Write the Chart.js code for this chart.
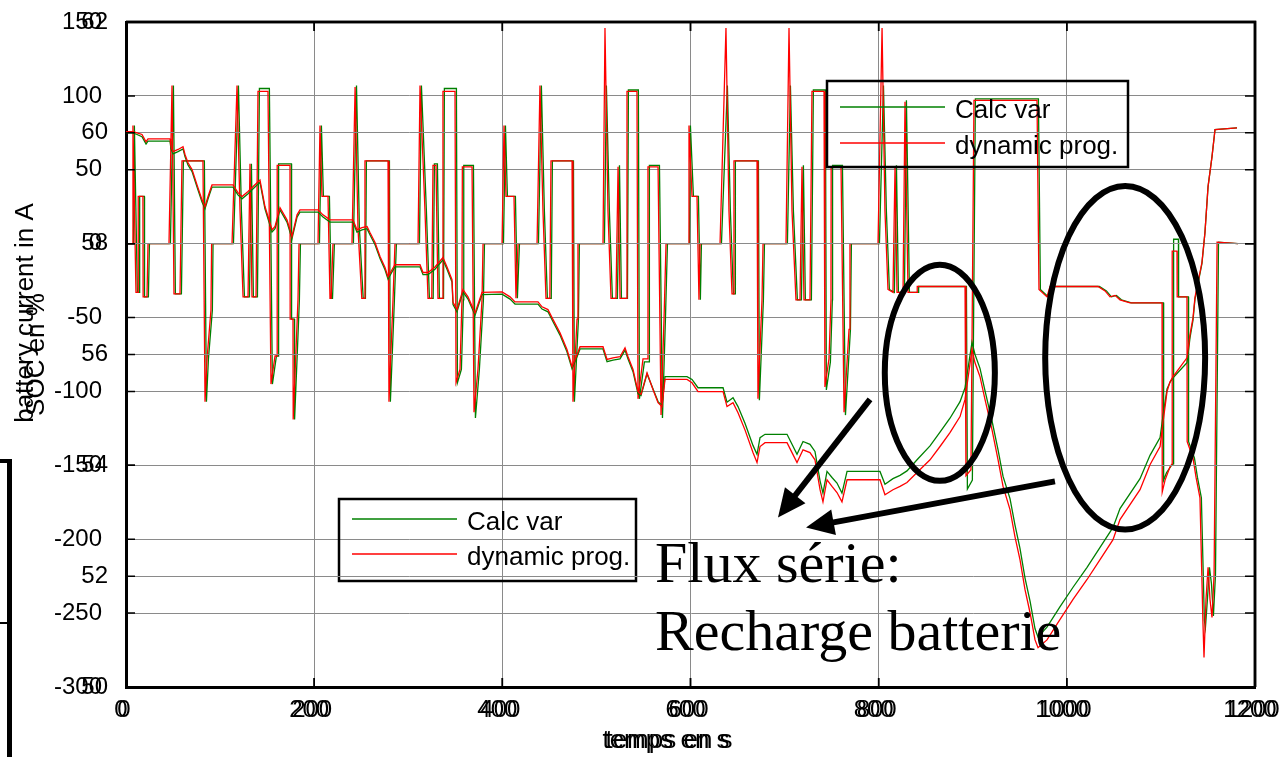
<!DOCTYPE html>
<html>
<head>
<meta charset="utf-8">
<title>Courant batterie et SOC</title>
<script src="https://cdn.jsdelivr.net/npm/chart.js@4.4.1/dist/chart.umd.min.js"></script>
<style>
  body { margin: 0; background: #fff; }
  #wrap { position: relative; width: 1283px; height: 757px; overflow: hidden; }
  #wrap canvas { position: absolute; left: 0; top: 0; }
  .bracket { position: absolute; left: 0; top: 459px; width: 7px; height: 300px; border-top: 4px solid #000; border-right: 5px solid #000; }
  .bracket-tick { position: absolute; left: 0; top: 622px; width: 7px; height: 0; border-top: 2px solid #000; }
</style>
</head>
<body>
<div id="wrap">
  <canvas id="currentChart" width="1283" height="757"></canvas>
  <canvas id="socChart" width="1283" height="757"></canvas>
  <div class="bracket"></div>
  <div class="bracket-tick"></div>
</div>
<script>
const xTicks = [0, 200, 400, 600, 800, 1000, 1200];
const currentTicks = [-300, -250, -200, -150, -100, -50, 0, 50, 100, 150];
const socTicks = [50, 52, 54, 56, 58, 60, 62];

// battery current (A), dynamic prog.
const curTime = [0, 6.5, 7.4, 10.6, 12.8, 13, 18, 18.2, 22.3, 23.4,
  45.7, 48.9, 51, 57.4, 59.5, 81.8, 84, 86.1, 90.3, 91,
  112.7, 118, 121.2, 124.4, 129.7, 131.8, 133.9, 138.2, 140.3, 150.9,
  154.1, 158.4, 160.5, 160.7, 174.3, 174.5, 177.5, 177.7, 180.7, 182.8,
  183.9, 204.1, 206.2, 208.3, 214.7, 216.8, 218, 220, 240.2, 243.5,
  246.6, 250.6, 253, 254, 278.5, 279.5, 283.8, 285.9, 310.4, 312.5,
  317.8, 321, 325, 326.3, 329.5, 331.6, 336, 336.9, 349.7, 350.8,
  355, 357.1, 357.5, 367.8, 369.9, 374.1, 378.4, 379.5, 399.7, 401.8,
  403.9, 412.4, 414.5, 416.7, 436.9, 440, 443.2, 446.4, 450.5, 451.7,
  474.1, 475.1, 479.4, 480.4, 507, 509.1, 512.3, 515.5, 520.8, 523,
  525.1, 531.5, 532.5, 543.1, 544.2, 549.5, 554.6, 554.8, 565.5, 568.7,
  571.9, 574, 597.4, 598.4, 601.6, 606.9, 609, 610.1, 631.4, 637.7,
  640.9, 644.1, 646, 646.2, 670.7, 671.7, 676, 677.1, 701.5, 704.7,
  707.9, 712.1, 716.4, 718.5, 720.6, 727, 729.1, 741.9, 742.9, 747.2,
  749.3, 749.5, 760, 763.2, 768.5, 769.5, 799.3, 803.6, 806.7, 809.9,
  815.2, 817.4, 819.5, 825.9, 828, 831.2, 840.8, 841, 891.8, 892.8,
  898.1, 899.2, 901.3, 968.3, 970.4, 978.9, 982.1, 1033.1, 1040.6, 1045.9,
  1051.2, 1056.5, 1061.8, 1067.2, 1101.2, 1101.4, 1104.4, 1109.7, 1111.8, 1112,
  1117.1, 1117.3, 1127.7, 1127.9, 1134.1, 1137.3, 1141.5, 1144.7, 1145.8, 1147.9,
  1150.1, 1152.2, 1154.3, 1156.5, 1159.7, 1181.9];
const curDyn = [0, 0, 80, -33, -33, 32, 32, -36, -36, 0,
  0, 107, -34, -34, 56, 56, -107, -78, -45, 0,
  0, 107, 22, -36, -36, 54, -36, -36, 103, 103,
  -95, -76, -76, 53, 53, -51, -51, -119, -72, -38,
  0, 0, 80, 32, 32, -37, -37, 0, 0, 106,
  10, -37, -37, 56, 56, -107, -38, 0, 0, 107,
  22, -37, -37, 53, 53, -37, -37, 103, 103, -94,
  -85, -38, 52, 52, -114, -85, -38, 0, 0, 80,
  32, 32, -37, 0, 0, 107, 22, -37, -37, 56,
  56, -107, -51, 0, 0, 146, 22, -37, -37, 52,
  -37, -37, 103, 103, -105, -78, -78, 52, 52, -116,
  -50, 0, 0, 80, 32, 32, -38, 0, 0, 146,
  22, -34, -34, 56, 56, -105, -38, 0, 0, 146,
  22, -38, -38, 52, -38, -38, 103, 103, -97, -78,
  -38, 52, 52, -114, -58, 0, 0, 146, 22, -31,
  -33, 52, -33, -33, 96, -33, -33, -29, -29, -157,
  -153, -67, 97, 97, -31, -36, -29, -29, -32, -36,
  -35, -38, -39, -40, -40, -168, -160, -151, -149, -5,
  -5, -36, -36, -134, -145, -158, -172, -257, -280, -241,
  -219, -241, -253, -224, 1, 0];

// battery current (A), calc var
const curCalcTime = [0, 8, 8.9, 12.1, 14.3, 14.5, 19.5, 19.7, 23.8, 24.9,
  47.2, 50.4, 52.5, 58.9, 61, 83.3, 85.5, 87.6, 91.8, 92.5,
  114.2, 119.5, 122.7, 125.9, 131.2, 133.3, 135.4, 139.7, 141.8, 152.4,
  155.6, 159.9, 162, 162.2, 175.8, 176, 179, 179.2, 182.2, 184.3,
  185.4, 205.6, 207.7, 209.8, 216.2, 218.3, 219.5, 221.5, 241.7, 245,
  248.1, 252.1, 254.5, 255.5, 280, 281, 285.3, 287.4, 311.9, 314,
  319.3, 322.5, 326.5, 327.8, 331, 333.1, 337.5, 338.4, 351.2, 352.3,
  356.5, 358.6, 359, 369.3, 371.4, 375.6, 379.9, 381, 401.2, 403.3,
  405.4, 413.9, 416, 418.2, 438.4, 441.5, 444.7, 447.9, 452, 453.2,
  475.6, 476.6, 480.9, 481.9, 508.5, 510.6, 513.8, 517, 522.3, 524.5,
  526.6, 533, 534, 544.6, 545.7, 551, 556.1, 556.3, 567, 570.2,
  573.4, 575.5, 598.9, 599.9, 603.1, 608.4, 610.5, 611.6, 632.9, 639.2,
  642.4, 645.6, 647.5, 647.7, 672.2, 673.2, 677.5, 678.6, 703, 706.2,
  709.4, 713.6, 717.9, 720, 722.1, 728.5, 730.6, 743.4, 744.4, 748.7,
  750.8, 751, 761.5, 764.7, 770, 771, 800.8, 805.1, 808.2, 811.4,
  816.7, 818.9, 821, 827.4, 829.5, 832.7, 842.3, 842.5, 893.3, 894.3,
  899.6, 900.7, 902.8, 969.8, 971.9, 980.4, 983.6, 1034.6, 1042.1, 1047.4,
  1052.7, 1058, 1063.3, 1068.7, 1102.7, 1102.9, 1105.9, 1111.2, 1113.3, 1113.5,
  1118.6, 1118.8, 1129.2, 1129.4, 1135.6, 1138.8, 1143, 1146.2, 1147.3, 1149.4,
  1151.6, 1153.7, 1155.8, 1158, 1161.2, 1181.9];
const curCalc = [0, 0, 80, -33, -33, 32, 32, -36, -36, 0,
  0, 107, -34, -34, 56, 56, -107, -78, -45, 0,
  0, 107, 22, -36, -36, 54, -36, -36, 105, 105,
  -95, -76, -76, 54, 54, -51, -51, -119, -72, -38,
  0, 0, 80, 32, 32, -37, -37, 0, 0, 107,
  10, -37, -37, 56, 56, -107, -38, 0, 0, 107,
  22, -37, -37, 54, 54, -37, -37, 105, 105, -94,
  -85, -38, 53, 53, -118, -85, -38, 0, 0, 80,
  32, 32, -37, 0, 0, 107, 22, -37, -37, 56,
  56, -107, -51, 0, 0, 107, 22, -37, -37, 53,
  -37, -37, 104, 104, -105, -80, -80, 53, 53, -118,
  -50, 0, 0, 80, 32, 32, -38, 0, 0, 107,
  22, -34, -34, 56, 56, -106, -38, 0, 0, 107,
  22, -38, -38, 53, -38, -38, 104, 104, -99, -80,
  -38, 53, 53, -116, -58, 0, 0, 107, 22, -31,
  -33, 53, -33, -33, 97, -33, -33, -29, -29, -166,
  -160, -67, 98, 98, -31, -36, -29, -29, -32, -36,
  -35, -38, -39, -40, -40, -160, -155, -150, -149, 3,
  3, -36, -36, -134, -145, -158, -172, -255, -260, -241,
  -219, -230, -252, -224, 1, 0];

// state of charge (%)
const socTime = [0, 7.4, 11.7, 17, 21.3, 23.4, 46.8, 47.8, 50, 55.3,
  60.6, 62.7, 65.9, 70.2, 75.5, 80.8, 84, 87.2, 91.4, 113.7,
  119, 123.3, 129.7, 139.2, 142.4, 147.7, 155.2, 158.4, 163.7, 171.1,
  176.4, 181.8, 184.9, 204.1, 209.4, 216.8, 241.3, 245.5, 250.8, 256.2,
  259.3, 264.7, 270, 275.3, 278.5, 282.7, 285.9, 312.5, 315.7, 321,
  328.4, 336.9, 341.2, 346.5, 347.6, 351.8, 358.2, 363.5, 371, 378.4,
  399.7, 408.2, 413.5, 437.9, 442.2, 448.5, 453.9, 461.3, 468.7, 474.1,
  479.4, 482.6, 507, 511.3, 517.6, 525.1, 530.4, 533.6, 538.9, 544.2,
  547.4, 553.8, 560.1, 565.5, 569.7, 572.9, 596.3, 601.6, 608, 634.6,
  638.8, 645.2, 650.5, 657.9, 666.4, 670.7, 673.9, 679.2, 702.6, 707.9,
  713.2, 719.6, 727, 732.3, 737.7, 740.8, 745.1, 750.4, 755.7, 761,
  766.4, 801.4, 806.7, 815.2, 822.7, 830.1, 840.8, 854.6, 865.2, 875.8,
  886.5, 891.8, 899.2, 902.4, 907.7, 913, 920.5, 926.9, 932.2, 939.6,
  944.9, 950.2, 955.5, 960.9, 966.2, 969.4, 978.9, 992.8, 1006.6, 1021.5,
  1035.3, 1049.1, 1056.5, 1077.8, 1088.4, 1099.1, 1102.3, 1106.5, 1109.7, 1112.9,
  1127.7, 1130.9, 1134.1, 1136.2, 1143.6, 1146.8, 1150.1, 1154.3, 1157.5, 1180.9];
const socDyn = [60.02, 60.02, 60.0, 59.97, 59.84, 59.89, 59.89, 59.75, 59.66, 59.7,
  59.75, 59.61, 59.46, 59.34, 59.06, 58.79, 58.67, 58.85, 59.06, 59.06,
  58.92, 58.85, 58.94, 59.1, 59.15, 58.67, 58.25, 58.31, 58.65, 58.43,
  58.13, 58.52, 58.61, 58.61, 58.52, 58.43, 58.43, 58.25, 58.29, 58.31,
  58.2, 58.02, 57.77, 57.57, 57.4, 57.53, 57.62, 57.62, 57.48, 57.48,
  57.58, 57.75, 57.58, 57.35, 56.94, 56.81, 57.17, 57.04, 56.75, 57.12,
  57.13, 57.04, 56.95, 56.95, 56.86, 56.81, 56.63, 56.39, 56.09, 55.78,
  56.0, 56.14, 56.14, 55.91, 55.94, 55.96, 56.12, 55.96, 55.73, 55.33,
  55.28, 55.67, 55.37, 55.13, 55.06, 55.55, 55.55, 55.49, 55.33, 55.33,
  55.06, 55.13, 54.95, 54.64, 54.23, 54.05, 54.34, 54.41, 54.41, 54.23,
  54.05, 54.28, 54.23, 54.1, 53.56, 53.34, 53.74, 53.62, 53.51, 53.34,
  53.74, 53.74, 53.47, 53.56, 53.62, 53.69, 53.87, 54.1, 54.34, 54.59,
  54.88, 55.19, 56.09, 55.85, 55.6, 55.19, 54.64, 54.1, 53.62, 53.2,
  52.71, 52.3, 51.76, 51.34, 50.85, 50.71, 50.85, 51.22, 51.58, 51.94,
  52.3, 52.66, 53.02, 53.56, 54.01, 54.34, 54.79, 55.33, 55.51, 55.6,
  55.94, 56.36, 56.66, 57.03, 57.66, 58.2, 59.03, 59.57, 60.06, 60.09];
const socCalc = [60.0, 60.0, 59.97, 59.93, 59.8, 59.85, 59.85, 59.71, 59.62, 59.66,
  59.71, 59.57, 59.42, 59.3, 59.02, 58.75, 58.63, 58.81, 59.02, 59.02,
  58.88, 58.81, 58.9, 59.06, 59.11, 58.63, 58.21, 58.27, 58.61, 58.39,
  58.09, 58.48, 58.57, 58.57, 58.48, 58.39, 58.39, 58.21, 58.25, 58.27,
  58.16, 57.98, 57.73, 57.53, 57.36, 57.49, 57.58, 57.58, 57.44, 57.44,
  57.54, 57.71, 57.54, 57.31, 56.9, 56.77, 57.13, 57.0, 56.71, 57.08,
  57.09, 57.0, 56.91, 56.91, 56.82, 56.77, 56.59, 56.35, 56.05, 55.74,
  55.96, 56.1, 56.1, 55.87, 55.9, 55.92, 56.08, 55.92, 55.69, 55.29,
  55.26, 55.65, 55.38, 55.15, 55.08, 55.6, 55.6, 55.55, 55.4, 55.4,
  55.14, 55.22, 55.06, 54.76, 54.36, 54.2, 54.5, 54.56, 54.56, 54.38,
  54.2, 54.43, 54.38, 54.25, 53.72, 53.5, 53.89, 53.78, 53.68, 53.5,
  53.89, 53.89, 53.66, 53.76, 53.82, 53.9, 54.1, 54.35, 54.6, 54.85,
  55.15, 55.4, 56.22, 56.0, 55.75, 55.35, 54.8, 54.28, 53.8, 53.4,
  52.92, 52.5, 51.97, 51.55, 51.05, 50.9, 51.08, 51.45, 51.8, 52.16,
  52.52, 52.88, 53.22, 53.76, 54.18, 54.5, 54.9, 55.38, 55.5, 55.58,
  55.85, 56.3, 56.62, 57.0, 57.64, 58.2, 59.03, 59.57, 60.06, 60.09];

// hand-drawn notes, in seconds / SOC % of the second chart
const circles = [
  { t: 865, soc: 55.67, dt: 58.5, dsoc: 1.95 },
  { t: 1062, soc: 55.94, dt: 85, dsoc: 3.1 },
];
const arrows = [
  { from: [790.8, 55.19], to: [693, 53.06] },
  { from: [987.4, 53.71], to: [722.8, 52.88] },
];
const note = { t: 562.3, soc: [51.9, 50.67], lines: ["Flux série:", "Recharge batterie"] };

const SANS = "'Liberation Sans', Arial, sans-serif";
Chart.defaults.font.family = SANS;
Chart.defaults.color = "#000";

const GREEN = "#008000";
const RED = "#ff0000";

const pts = (ts, vs) => ts.map((t, i) => ({ x: t, y: vs[i] }));

const frame = {
  id: "frame",
  afterDraw(chart) {
    const { ctx, chartArea: a, scales: { x, y } } = chart;
    ctx.save();
    ctx.strokeStyle = "#000";
    ctx.lineWidth = 1.5;
    ctx.beginPath();
    for (const t of y.ticks) {
      const py = y.getPixelForValue(t.value);
      ctx.moveTo(a.left, py); ctx.lineTo(a.left + 9, py);
      ctx.moveTo(a.right, py); ctx.lineTo(a.right - 10, py);
    }
    for (const t of x.ticks) {
      const px = x.getPixelForValue(t.value);
      ctx.moveTo(px, a.top); ctx.lineTo(px, a.top + 9);
      ctx.moveTo(px, a.bottom); ctx.lineTo(px, a.bottom - 9);
    }
    ctx.stroke();
    ctx.lineWidth = 2.5;
    ctx.beginPath();
    ctx.moveTo(a.left, a.top); ctx.lineTo(a.right, a.top); ctx.lineTo(a.right, a.bottom);
    ctx.stroke();
    ctx.restore();
  },
};

const texts = {
  id: "texts",
  afterDraw(chart, args, opts) {
    const ctx = chart.ctx;
    for (const it of opts.items || []) {
      ctx.save();
      ctx.font = it.font;
      ctx.fillStyle = "#000";
      ctx.textAlign = "center";
      ctx.textBaseline = it.baseline || "alphabetic";
      ctx.translate(it.x, it.y);
      if (it.rotate) ctx.rotate(it.rotate);
      ctx.fillText(it.text, 0, 0);
      ctx.restore();
    }
  },
};

const boxLegend = {
  id: "boxLegend",
  afterDraw(chart, args, o) {
    const { ctx } = chart;
    ctx.save();
    ctx.lineWidth = 2.5;
    ctx.strokeStyle = "#000";
    ctx.strokeRect(o.left, o.top, o.width, o.height);
    ctx.font = "26px " + SANS;
    ctx.fillStyle = "#000";
    ctx.textAlign = "left";
    ctx.textBaseline = "alphabetic";
    chart.data.datasets.forEach((ds, i) => {
      const ly = o.top + o.rows[i];
      ctx.strokeStyle = ds.borderColor;
      ctx.lineWidth = 1.5;
      ctx.beginPath();
      ctx.moveTo(o.left + 13, ly);
      ctx.lineTo(o.left + 118, ly);
      ctx.stroke();
      ctx.fillText(ds.label, o.left + 128, ly + 11);
    });
    ctx.restore();
  },
};

const notes = {
  id: "notes",
  afterDraw(chart) {
    const { ctx, scales: { x, y } } = chart;
    ctx.save();
    ctx.lineWidth = 6;
    ctx.strokeStyle = "#000";
    ctx.fillStyle = "#000";
    for (const c of circles) {
      const cx = x.getPixelForValue(c.t), cy = y.getPixelForValue(c.soc);
      const rx = x.getPixelForValue(c.t + c.dt) - cx;
      const ry = cy - y.getPixelForValue(c.soc + c.dsoc);
      ctx.beginPath();
      ctx.ellipse(cx, cy, rx, ry, 0, 0, Math.PI * 2);
      ctx.stroke();
    }
    for (const a of arrows) {
      const x0 = x.getPixelForValue(a.from[0]), y0 = y.getPixelForValue(a.from[1]);
      const x1 = x.getPixelForValue(a.to[0]), y1 = y.getPixelForValue(a.to[1]);
      const ang = Math.atan2(y1 - y0, x1 - x0);
      const head = 28, half = 13;
      const c = Math.cos(ang), s = Math.sin(ang);
      ctx.beginPath();
      ctx.moveTo(x0, y0);
      ctx.lineTo(x1 - c * head * 0.8, y1 - s * head * 0.8);
      ctx.stroke();
      ctx.beginPath();
      ctx.moveTo(x1, y1);
      ctx.lineTo(x1 - head * c + half * s, y1 - head * s - half * c);
      ctx.lineTo(x1 - head * c - half * s, y1 - head * s + half * c);
      ctx.closePath();
      ctx.fill();
    }
    ctx.font = "58px 'Liberation Serif', 'Times New Roman', serif";
    ctx.textAlign = "left";
    ctx.textBaseline = "alphabetic";
    note.lines.forEach((line, i) => ctx.fillText(line, x.getPixelForValue(note.t), y.getPixelForValue(note.soc[i])));
    ctx.restore();
  },
};

const lineSet = (label, color, data, order) => ({
  label, data, order,
  borderColor: color,
  backgroundColor: color,
  borderWidth: 1.3,
  pointRadius: 0,
  tension: 0,
});

const makeChart = (id, o) =>
  new Chart(document.getElementById(id), {
    type: "line",
    data: { datasets: o.datasets },
    options: {
      responsive: false,
      animation: false,
      devicePixelRatio: 1,
      layout: { padding: { top: 22, right: 28, left: 0, bottom: 0 } },
      plugins: {
        legend: { display: false },
        tooltip: { enabled: false },
        boxLegend: o.legend,
        texts: { items: o.texts },
      },
      scales: {
        x: {
          type: "linear",
          min: 0,
          max: 1200,
          afterBuildTicks: (s) => { s.ticks = xTicks.map((v) => ({ value: v })); },
          afterFit: (s) => { s.height = 70; s.paddingLeft = 0; s.paddingRight = 0; },
          grid: { display: o.xGrid, color: "#8a8a8a", lineWidth: 1, drawTicks: false },
          border: { color: "#000", width: 3 },
          ticks: { font: { size: 24 }, color: "#000", padding: 9, labelOffset: o.labelOffset, maxRotation: 0, autoSkip: false, callback: (v) => String(v) },
        },
        y: {
          type: "linear",
          min: o.yTicks[0],
          max: o.yTicks[o.yTicks.length - 1],
          afterBuildTicks: (s) => { s.ticks = o.yTicks.map((v) => ({ value: v })); },
          afterFit: (s) => { s.width = 126; s.paddingTop = 0; s.paddingBottom = 0; },
          grid: { color: "#8a8a8a", lineWidth: 1, drawTicks: false },
          border: { color: "#000", width: 3 },
          ticks: { font: { size: 24 }, color: "#000", padding: o.yPad, autoSkip: false, callback: (v) => String(v) },
          title: o.yTitle,
        },
      },
    },
    plugins: [frame, boxLegend, texts, ...(o.extra || [])],
  });

makeChart("currentChart", {
  datasets: [
    lineSet("Calc var", GREEN, pts(curCalcTime, curCalc), 2),
    lineSet("dynamic prog.", RED, pts(curTime, curDyn), 1),
  ],
  yTicks: currentTicks,
  yPad: 24,
  xGrid: true,
  labelOffset: -5,
  yTitle: { display: false },
  legend: { left: 339, top: 499, width: 297, height: 82, rows: [20, 55] },
  texts: [
    { text: "battery current in A", x: 26, y: 313, rotate: -Math.PI / 2, baseline: "middle", font: "26px " + SANS },
    { text: "temps en s", x: 666, y: 748, font: "26px " + SANS },
  ],
});

makeChart("socChart", {
  datasets: [
    lineSet("Calc var", GREEN, pts(socTime, socCalc), 2),
    lineSet("dynamic prog.", RED, pts(socTime, socDyn), 1),
  ],
  yTicks: socTicks,
  yPad: 18,
  xGrid: false,
  labelOffset: -2,
  yTitle: { display: true, text: "SOC en %", font: { size: 26 }, color: "#000", padding: { top: 21, bottom: 0 } },
  legend: { left: 827, top: 81, width: 301, height: 86, rows: [26, 62] },
  texts: [{ text: "temps en s", x: 669, y: 748, font: "26px " + SANS }],
  extra: [notes],
});
</script>
</body>
</html>
